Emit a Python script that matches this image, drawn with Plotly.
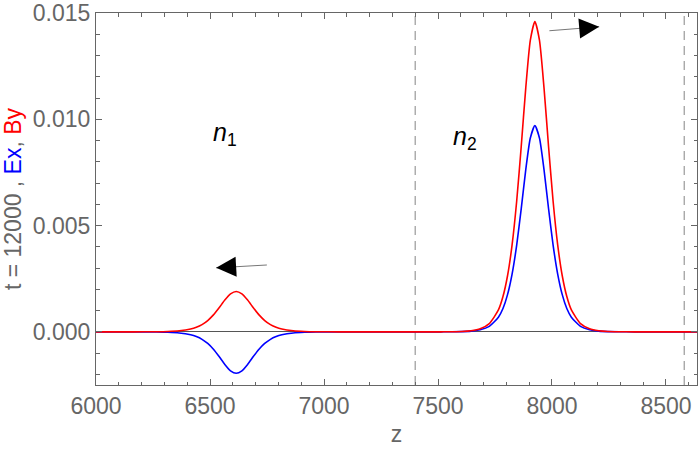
import plotly.graph_objects as go

z = [6000, 6115, 6215, 6265, 6315, 6365, 6415, 6440, 6465, 6490, 6515, 6540, 6565, 6590,
     6615, 6640, 6665, 6690, 6715, 6740, 6765, 6790, 6815, 6865, 6915, 6965, 7015, 7115,
     7300, 7500, 7525, 7605, 7645, 7685, 7725, 7765, 7785, 7805, 7825, 7845, 7865, 7885, 7905,
     7925, 7945, 7965, 7985, 8005, 8025, 8045, 8065, 8085, 8125, 8165, 8205, 8245, 8325,
     8400, 8500, 8640]
by = [0, 0, 0.0000025, 0.0000069, 0.0000188, 0.0000505, 0.000134, 0.000216, 0.000343, 0.000533,
      0.000798, 0.001134, 0.001494, 0.001786,
      0.0019, 0.001786, 0.001494, 0.001134, 0.000798, 0.000533, 0.000343, 0.000216, 0.000134,
      0.0000505, 0.0000188, 0.0000069, 0.0000025, 0,
      0, 0, 0.0000026, 0.00002, 0.000053, 0.000144, 0.00039, 0.00103, 0.00166, 0.00264, 0.00409,
      0.00613, 0.00871, 0.01148, 0.01372,
      0.0146, 0.01372, 0.01148, 0.00871, 0.00613, 0.00409, 0.00264, 0.00166, 0.00103, 0.00039,
      0.000144, 0.000053, 0.00002, 0.0000026,
      0, 0, 0]
ex = [0, 0, -0.0000026, -0.0000071, -0.0000192, -0.0000519, -0.000138, -0.000222, -0.000352, -0.000547,
      -0.000819, -0.001163, -0.001533, -0.001833,
      -0.00195, -0.001833, -0.001533, -0.001163, -0.000819, -0.000547, -0.000352, -0.000222, -0.000138,
      -0.0000519, -0.0000192, -0.0000071, -0.0000026, 0,
      0, 0, 0.0000017, 0.000013, 0.000035, 0.000096, 0.00026, 0.00069, 0.0011, 0.00175, 0.00272,
      0.00407, 0.00579, 0.00763, 0.00912,
      0.0097, 0.00912, 0.00763, 0.00579, 0.00407, 0.00272, 0.00175, 0.0011, 0.00069, 0.00026,
      0.000096, 0.000035, 0.000013, 0.0000017,
      0, 0, 0]

interfaces = [7400, 8580]
x_ticks = [6000, 6500, 7000, 7500, 8000, 8500]
y_ticks = [0.0, 0.005, 0.010, 0.015]

grey = "#666666"
font = "Liberation Sans, Arial, sans-serif"

fig = go.Figure()
fig.add_trace(go.Scatter(x=z, y=ex, mode="lines", line=dict(color="#0000ff", width=1.6, shape="spline", smoothing=0.6)))
fig.add_trace(go.Scatter(x=z, y=by, mode="lines", line=dict(color="#ff0000", width=1.6, shape="spline", smoothing=0.6)))

for xv in interfaces:
    fig.add_shape(type="line", xref="x", yref="paper", x0=xv, x1=xv, y0=0, y1=1,
                  line=dict(color="#999999", width=1.2, dash="9px,6px"), layer="below")

# arrow shafts (grey) then black heads
arrows = [((6527, 0.00301), (6756, 0.00315), (12, -0.7)),
          ((8207, 0.01435), (7982, 0.01416), (-12, 1))]
for (hx, hy), (tx, ty), (dx, dy) in arrows:
    fig.add_annotation(x=hx, y=hy, ax=tx, ay=ty, axref="x", ayref="y", text="",
                       showarrow=True, arrowhead=0, arrowwidth=1, arrowcolor="#777777")
    fig.add_annotation(x=hx, y=hy, ax=dx, ay=dy, text="", showarrow=True,
                       arrowhead=2, arrowsize=4, arrowwidth=1, arrowcolor="black")

fig.add_annotation(x=6565, y=0.0093, text="<i>n</i><sub>1</sub>", showarrow=False,
                   font=dict(family=font, size=25, color="black"))
fig.add_annotation(x=7620, y=0.0091, text="<i>n</i><sub>2</sub>", showarrow=False,
                   font=dict(family=font, size=25, color="black"))

axis_common = dict(showline=True, linecolor=grey, linewidth=1, mirror="ticks", ticks="inside",
                   ticklen=6, tickcolor=grey, showgrid=False, automargin=False,
                   tickfont=dict(family=font, size=23, color=grey))

fig.update_xaxes(range=[6000, 8636], tickvals=x_ticks, zeroline=False,
                 minor=dict(dtick=100, tick0=6000, ticks="inside", ticklen=3.5, tickcolor=grey),
                 title=dict(text="z", font=dict(family=font, size=23, color=grey), standoff=8),
                 **axis_common)
fig.update_yaxes(range=[-0.0025, 0.015], tickvals=y_ticks, tickformat=".3f",
                 zeroline=True, zerolinecolor="#555555", zerolinewidth=1,
                 minor=dict(dtick=0.001, tick0=0, ticks="inside", ticklen=3.5, tickcolor=grey),
                 title=dict(text="t = 12000 , <span style='color:#0000ff'>Ex</span>, "
                                 "<span style='color:#ff0000'>By</span>",
                            font=dict(family=font, size=23, color=grey), standoff=4),
                 **axis_common)

fig.update_layout(width=700, height=450, showlegend=False,
                  margin=dict(l=96, r=3, t=13, b=65),
                  plot_bgcolor="white", paper_bgcolor="white")

# page body margin would shift the fixed-size figure
fig.write_html("out.html", config={"displayModeBar": False},
               post_script="document.body.style.margin='0px';")
